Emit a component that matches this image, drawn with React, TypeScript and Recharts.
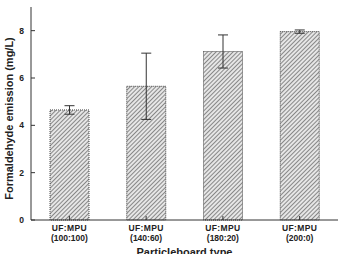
import { BarChart, Bar, XAxis, YAxis, ErrorBar, Label } from "recharts";

const boardTypes = ["(100:100)", "(140:60)", "(180:20)", "(200:0)"];
const emission = [4.65, 5.65, 7.12, 7.96];
const emissionErr = [0.18, 1.4, 0.7, 0.07];
const yTicks = [0, 2, 4, 6, 8];

const data = boardTypes.map((t, i) => ({
  type: t,
  value: emission[i],
  err: emissionErr[i],
}));

const FONT = "'Liberation Sans', Arial, sans-serif";

function YTick(props: any) {
  const { x, y, payload } = props;
  return (
    <g>
      <line x1={x} x2={x + 4} y1={y} y2={y} stroke="#333" />
      <text
        x={x - 7}
        y={y}
        dy={3}
        textAnchor="end"
        fontSize={8.5}
        fontWeight="bold"
        fontFamily={FONT}
        fill="#222"
      >
        {payload.value}
      </text>
    </g>
  );
}

function XTick(props: any) {
  const { x, y, payload } = props;
  return (
    <g>
      <line x1={x} x2={x} y1={y} y2={y - 4} stroke="#333" />
      <text
        x={x}
        y={y + 11}
        textAnchor="middle"
        fontSize={8.5}
        fontWeight="bold"
        fontFamily={FONT}
        fill="#222"
        letterSpacing={0.4}
      >
        UF:MPU
      </text>
      <text
        x={x}
        y={y + 21}
        textAnchor="middle"
        fontSize={8.5}
        fontWeight="bold"
        fontFamily={FONT}
        fill="#222"
      >
        {payload.value}
      </text>
    </g>
  );
}

function YTitle(props: any) {
  const { viewBox } = props;
  const cy = viewBox.y + viewBox.height / 2 + 5;
  const cx = 9;
  return (
    <text
      x={cx}
      y={cy}
      transform={`rotate(-90 ${cx} ${cy})`}
      dy={4}
      textAnchor="middle"
      fontSize={11}
      fontWeight="bold"
      fontFamily={FONT}
      fill="#222"
    >
      Formaldehyde emission (mg/L)
    </text>
  );
}

export default function App() {
  return (
    <div style={{ position: "absolute", left: 0, top: 0 }}>
      <BarChart
        width={343}
        height={254}
        data={data}
        margin={{ top: 7, right: 5, bottom: 0, left: 0 }}
      >
        <defs>
          <pattern
            id="hatch"
            patternUnits="userSpaceOnUse"
            width={3}
            height={3}
            patternTransform="rotate(45)"
          >
            <rect width={3} height={3} fill="#e6e6e6" />
            <line x1={0} y1={0} x2={0} y2={3} stroke="#555" strokeWidth={1.3} />
          </pattern>
        </defs>
        <XAxis
          dataKey="type"
          height={34}
          tick={<XTick />}
          tickLine={false}
          tickSize={0}
          tickMargin={0}
          axisLine={{ stroke: "#333" }}
          interval={0}
        >
          <Label
            value="Particleboard type"
            position="insideBottom"
            offset={-2}
            style={{ fontSize: 11, fontWeight: "bold", fontFamily: FONT, fill: "#222" }}
          />
        </XAxis>
        <XAxis
          xAxisId="top"
          dataKey="type"
          orientation="top"
          height={0}
          tick={false}
          tickLine={false}
          axisLine={{ stroke: "#777" }}
        />
        <YAxis
          width={31}
          domain={[0, 9]}
          ticks={yTicks}
          tick={<YTick />}
          tickLine={false}
          tickSize={0}
          tickMargin={0}
          axisLine={{ stroke: "#333" }}
        >
          <Label content={<YTitle />} />
        </YAxis>
        <YAxis
          yAxisId="right"
          orientation="right"
          width={0}
          domain={[0, 9]}
          tick={false}
          tickLine={false}
          axisLine={{ stroke: "#777" }}
        />
        <Bar
          dataKey="value"
          barSize={39}
          fill="url(#hatch)"
          stroke="#444"
          strokeDasharray="1 1"
          isAnimationActive={false}
        >
          <ErrorBar dataKey="err" width={5} stroke="#333" strokeWidth={1} />
        </Bar>
      </BarChart>
    </div>
  );
}
